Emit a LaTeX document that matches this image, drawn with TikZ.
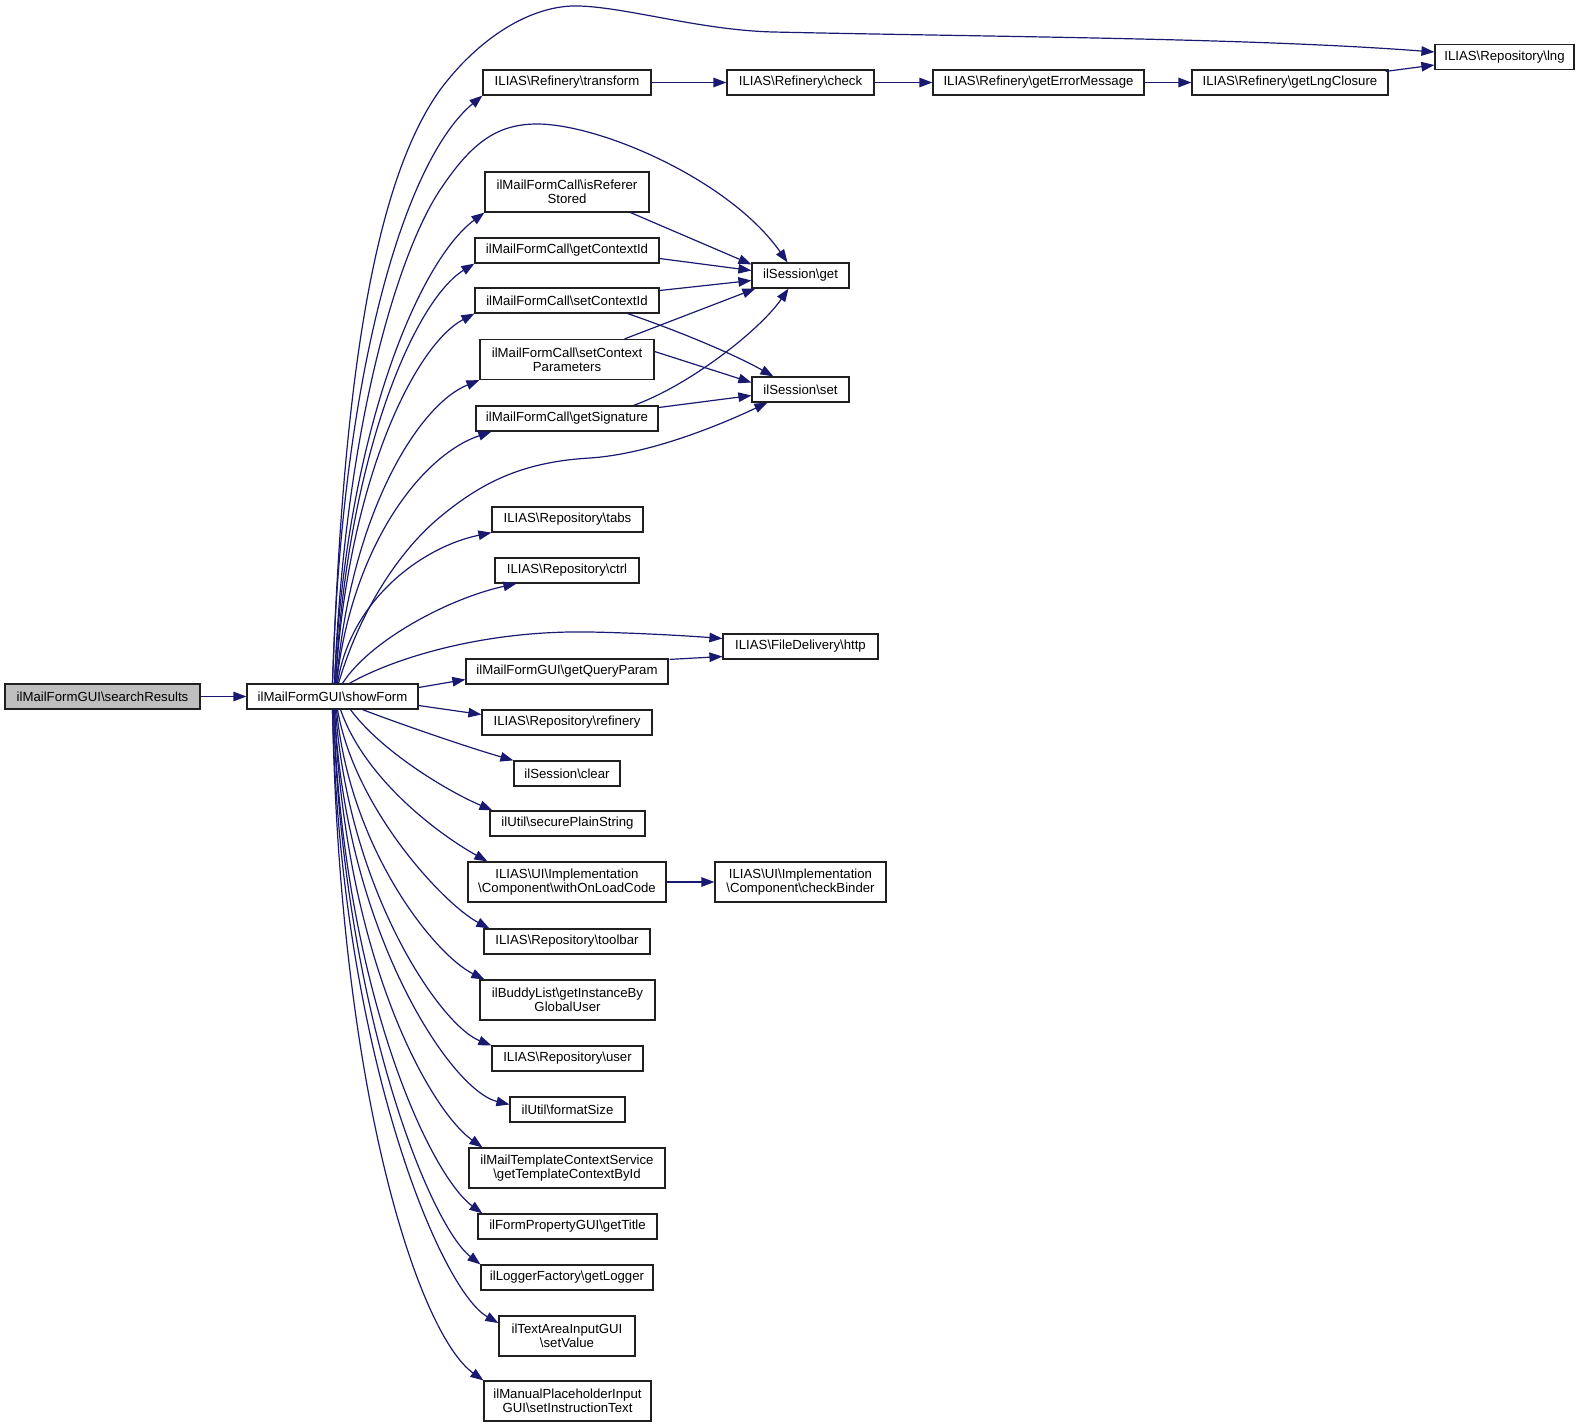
\documentclass[tikz,border=0pt]{standalone}
\usepackage{fontspec}
\setmainfont{Liberation Sans}
\usetikzlibrary{arrows.meta,calc}
\definecolor{edgecol}{HTML}{191970}
\definecolor{selfill}{HTML}{BFBFBF}
\definecolor{boxline}{HTML}{202020}
\newcommand{\myb}{\textbackslash}
\begin{document}
\begin{tikzpicture}[x=1pt,y=-1pt,
  box/.style={draw=boxline, line width=1.2pt, fill=white, inner sep=0pt,
    font=\fontsize{13.2}{14}\selectfont, align=center, minimum height=25pt},
  tall/.style={minimum height=40pt},
  edge/.style={draw=edgecol, line width=1.2pt, -{Triangle[length=13pt,width=9.5pt]}}]
\useasboundingbox (0,0) rectangle (1584,1427);

% nodes
\node[box, fill=selfill, minimum width=195pt] (sr) at (102.5,696.5) {ilMailFormGUI\myb searchResults};
\node[box, minimum width=171pt] (sf) at (332.5,696.5) {ilMailFormGUI\myb showForm};
\node[box, minimum width=139pt] (lng) at (1504.5,57) {ILIAS\myb Repository\myb lng};
\node[box, minimum width=168pt] (transform) at (567,82.5) {ILIAS\myb Refinery\myb transform};
\node[box, minimum width=147pt] (check) at (800.5,82.5) {ILIAS\myb Refinery\myb check};
\node[box, minimum width=211pt] (gem) at (1038.5,82.5) {ILIAS\myb Refinery\myb getErrorMessage};
\node[box, minimum width=196pt] (glc) at (1290,82.5) {ILIAS\myb Refinery\myb getLngClosure};
\node[box, tall, minimum width=164pt] (irs) at (567,192) {ilMailFormCall\myb isReferer\\Stored};
\node[box, minimum width=184pt] (gci) at (567,250.5) {ilMailFormCall\myb getContextId};
\node[box, minimum width=184pt] (sci) at (567,300.5) {ilMailFormCall\myb setContextId};
\node[box, tall, minimum width=174pt] (scp) at (567,359.5) {ilMailFormCall\myb setContext\\Parameters};
\node[box, minimum width=182pt] (gsig) at (567,418.5) {ilMailFormCall\myb getSignature};
\node[box, minimum width=97pt] (sget) at (800.5,275.5) {ilSession\myb get};
\node[box, minimum width=97pt] (sset) at (800.5,389.5) {ilSession\myb set};
\node[box, minimum width=151pt] (tabs) at (567.5,519.5) {ILIAS\myb Repository\myb tabs};
\node[box, minimum width=144pt] (ctrl) at (567,570.5) {ILIAS\myb Repository\myb ctrl};
\node[box, minimum width=155pt] (http) at (800.5,646.5) {ILIAS\myb FileDelivery\myb http};
\node[box, minimum width=202pt] (gqp) at (567,671.5) {ilMailFormGUI\myb getQueryParam};
\node[box, minimum width=170pt] (refinery) at (567,722.5) {ILIAS\myb Repository\myb refinery};
\node[box, minimum width=106pt] (clear) at (567,773.5) {ilSession\myb clear};
\node[box, minimum width=155pt] (sps) at (567.5,823.5) {ilUtil\myb securePlainString};
\node[box, tall, minimum width=198pt] (wolc) at (567,882) {ILIAS\myb UI\myb Implementation\\\myb Component\myb withOnLoadCode};
\node[box, tall, minimum width=171pt] (cb) at (800.5,882) {ILIAS\myb UI\myb Implementation\\\myb Component\myb checkBinder};
\node[box, minimum width=166pt] (toolbar) at (567,941.5) {ILIAS\myb Repository\myb toolbar};
\node[box, tall, minimum width=175pt] (gib) at (567.5,1000) {ilBuddyList\myb getInstanceBy\\GlobalUser};
\node[box, minimum width=151pt] (user) at (567.5,1058.5) {ILIAS\myb Repository\myb user};
\node[box, minimum width=115pt] (fsize) at (567.5,1109.5) {ilUtil\myb formatSize};
\node[box, tall, minimum width=196pt] (tcbi) at (567,1168) {ilMailTemplateContextService\\\myb getTemplateContextById};
\node[box, minimum width=179pt] (gtitle) at (567.5,1226.5) {ilFormPropertyGUI\myb getTitle};
\node[box, minimum width=172pt] (glog) at (567,1277.5) {ilLoggerFactory\myb getLogger};
\node[box, tall, minimum width=136pt] (setv) at (567,1336) {ilTextAreaInputGUI\\\myb setValue};
\node[box, tall, minimum width=167pt] (sit) at (567.5,1401) {ilManualPlaceholderInput\\GUI\myb setInstructionText};

% straight chains
\draw[edge] (sr) -- (sf);
\draw[edge] (transform) -- (check);
\draw[edge] (check) -- (gem);
\draw[edge] (gem) -- (glc);
\draw[edge] ($(glc.north east)+(-3,2)$) -- ($(lng.west)+(0,8)$);
\draw[edge] (wolc) -- (cb);

% fan upwards
\draw[edge] (sf.north) .. controls (343,390) and (372,185) .. (440,90)
  .. controls (477,40) and (530,4) .. (580,6)
  .. controls (630,8) and (700,30) .. (773,32)
  .. controls (1000,37) and (1250,38) .. ($(lng.west)+(0,-5)$);
\draw[edge] (sf.north) .. controls (342,370) and (405,160) .. (transform.south west);
\draw[edge] ($(sf.north)+(2,0)$) .. controls (345,420) and (400,250) .. (440,190)
  .. controls (470,145) and (495,124) .. (537,124)
  .. controls (600,124) and (730,180) .. ($(sget.north)+(-13,0)$);
\draw[edge] ($(sf.north)+(2,0)$) .. controls (346,430) and (420,260) .. (irs.south west);
\draw[edge] ($(sf.north)+(3,0)$) .. controls (347,455) and (415,300) .. (gci.south west);
\draw[edge] ($(sf.north)+(3,0)$) .. controls (348,480) and (415,345) .. (sci.south west);
\draw[edge] ($(sf.north)+(4,0)$) .. controls (350,515) and (418,405) .. (scp.south west);
\draw[edge] ($(sf.north)+(4,0)$) .. controls (352,545) and (422,455) .. ($(gsig.south west)+(16,0)$);
\draw[edge] ($(sf.north)+(6,0)$) .. controls (360,610) and (400,550) .. (440,517)
  .. controls (480,484) and (520,462) .. (590,458)
  .. controls (650,454) and (720,425) .. ($(sset.south west)+(16,0)$);
\draw[edge] ($(sf.north)+(5,0)$) .. controls (350,600) and (422,547) .. (tabs.south west);
\draw[edge] ($(sf.north)+(10,0)$) .. controls (370,640) and (450,598) .. ($(ctrl.south west)+(22,0)$);
\draw[edge] ($(sf.north)+(17,0)$) .. controls (390,660) and (480,630) .. (590,632)
  .. controls (640,633) and (690,636) .. ($(http.west)+(0,-8)$);
\draw[edge] ($(sf.east)+(0,-9)$) -- ($(gqp.west)+(0,8)$);
\draw[edge] ($(sf.east)+(0,9)$) -- ($(refinery.west)+(0,-8)$);

% fan downwards
\draw[edge] ($(sf.south)+(30,0)$) .. controls (400,724) and (470,748) .. (clear.north west);
\draw[edge] ($(sf.south)+(18,0)$) .. controls (380,750) and (445,790) .. ($(sps.north west)+(3,0)$);
\draw[edge] ($(sf.south)+(8,0)$) .. controls (365,780) and (440,835) .. ($(wolc.north west)+(20,0)$);
\draw[edge] ($(sf.south)+(5,0)$) .. controls (355,810) and (445,905) .. ($(toolbar.north west)+(6,0)$);
\draw[edge] ($(sf.south)+(4,0)$) .. controls (350,850) and (435,955) .. ($(gib.north west)+(5,0)$);
\draw[edge] ($(sf.south)+(3,0)$) .. controls (348,890) and (440,1025) .. (user.north west);
\draw[edge] ($(sf.south)+(2,0)$) .. controls (345,930) and (450,1090) .. ($(fsize.west)+(0,-5)$);
\draw[edge] ($(sf.south)+(2,0)$) .. controls (345,960) and (430,1110) .. ($(tcbi.north west)+(14,0)$);
\draw[edge] ($(sf.south)+(1,0)$) .. controls (343,990) and (430,1175) .. ($(gtitle.north west)+(5,0)$);
\draw[edge] ($(sf.south)+(1,0)$) .. controls (342,1010) and (430,1225) .. (glog.north west);
\draw[edge] (sf.south) .. controls (340,1050) and (440,1290) .. ($(setv.west)+(0,-13)$);
\draw[edge] (sf.south) .. controls (340,1100) and (420,1335) .. (sit.north west);

% ilSession edges
\draw[edge] ($(irs.south east)+(-19,0)$) -- ($(sget.north west)+(0,2)$);
\draw[edge] ($(gci.east)+(0,8)$) -- ($(sget.west)+(0,-5)$);
\draw[edge] ($(sci.east)+(0,-10)$) -- ($(sget.west)+(0,5)$);
\draw[edge] ($(sci.south east)+(-32,0)$) .. controls (670,328) and (730,352) .. ($(sset.north west)+(22,0)$);
\draw[edge] ($(scp.north east)+(-30,0)$) -- ($(sget.south west)+(4,0)$);
\draw[edge] ($(scp.east)+(0,-8)$) -- ($(sset.west)+(0,-7)$);
\draw[edge] ($(gsig.north east)+(-25,0)$) .. controls (690,385) and (760,330) .. ($(sget.south)+(-12,0)$);
\draw[edge] ($(gsig.east)+(0,-11)$) -- ($(sset.west)+(0,6)$);
\draw[edge] ($(gqp.north east)+(1,1)$) -- ($(http.west)+(0,10)$);
\end{tikzpicture}
\end{document}
